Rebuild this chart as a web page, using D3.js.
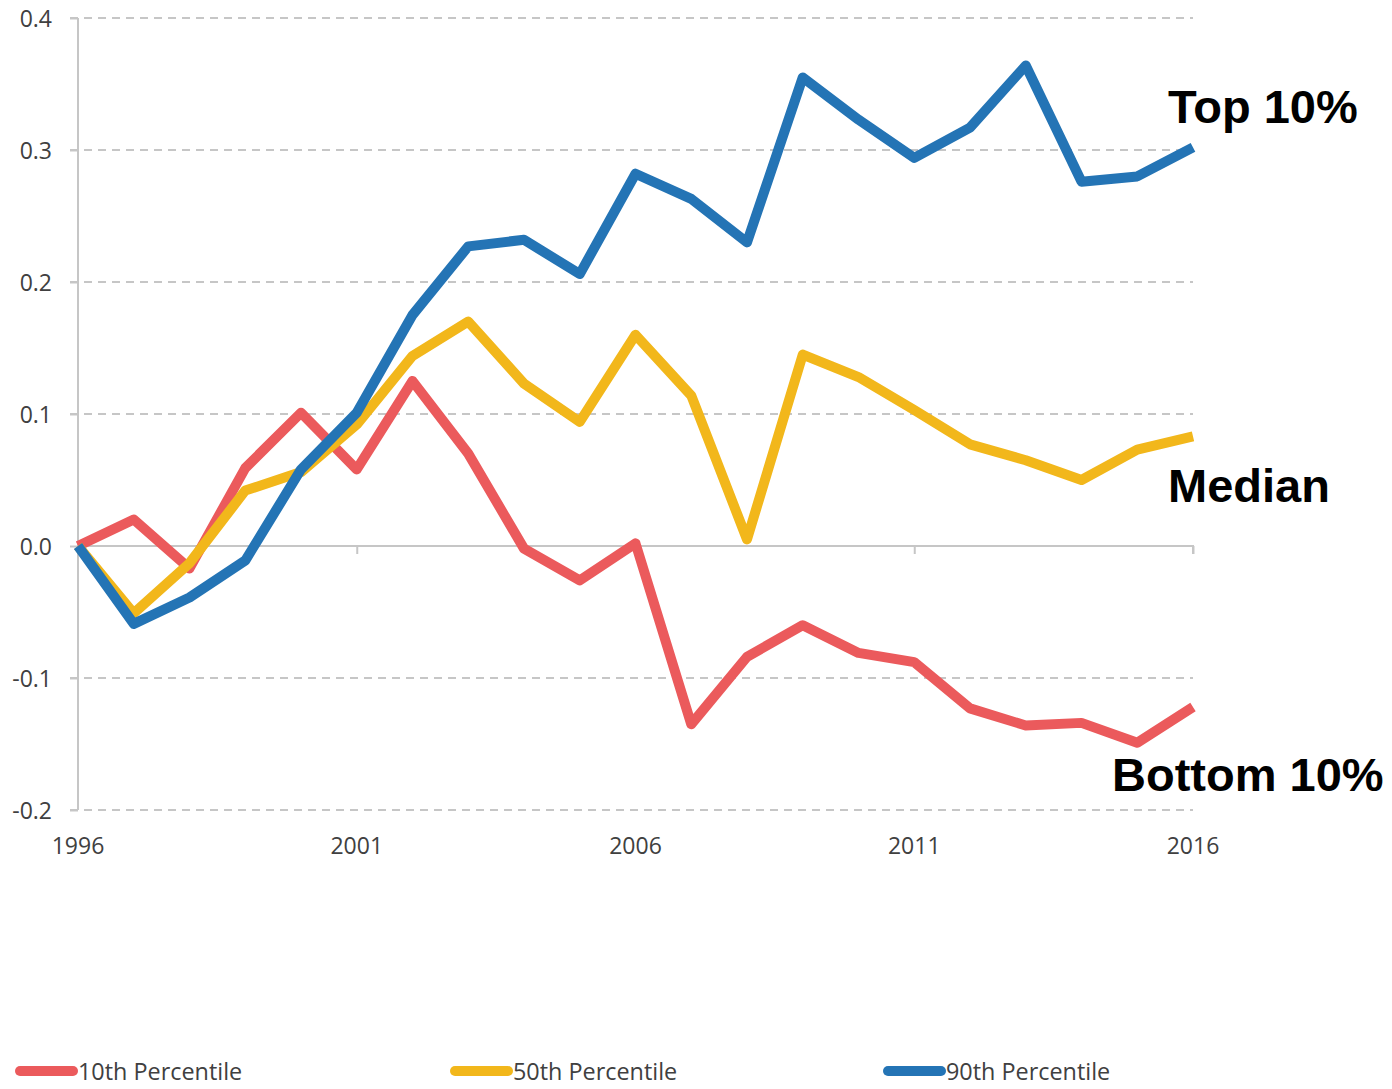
<!DOCTYPE html>
<html><head><meta charset="utf-8">
<script src="https://cdn.jsdelivr.net/npm/d3@7"></script>
<style>body{margin:0;background:#fff}svg{display:block}</style>
</head><body>
<script>
const years = d3.range(1996, 2017);
const p10 = [0, 0.020, -0.017, 0.059, 0.101, 0.058, 0.125, 0.070, -0.002, -0.026, 0.002, -0.135, -0.084, -0.060, -0.081, -0.088, -0.123, -0.136, -0.134, -0.149, -0.122];
const p50 = [0, -0.051, -0.013, 0.042, 0.056, 0.092, 0.144, 0.170, 0.123, 0.094, 0.160, 0.114, 0.005, 0.145, 0.128, 0.103, 0.077, 0.065, 0.050, 0.073, 0.083];
const p90 = [0, -0.059, -0.039, -0.011, 0.058, 0.101, 0.175, 0.227, 0.232, 0.206, 0.282, 0.263, 0.230, 0.355, 0.323, 0.294, 0.317, 0.364, 0.276, 0.280, 0.302];
const seriesNames = ["10th Percentile", "50th Percentile", "90th Percentile"];
const seriesColors = ["#EB5A5C", "#F2B71B", "#2474B5"];
const endLabels = ["Bottom 10%", "Median", "Top 10%"];
const yTicks = [-0.2, -0.1, 0.0, 0.1, 0.2, 0.3, 0.4];
const xTicks = [1996, 2001, 2006, 2011, 2016];

const W = 1392, H = 1089;
const svg = d3.select("body").append("svg").attr("width", W).attr("height", H);
const x = d3.scaleLinear().domain([1996, 2016]).range([78, 1193]);
const y = d3.scaleLinear().domain([-0.2, 0.4]).range([810, 18]);
const axisFont = "'Open Sans', sans-serif";
const textColor = "#404040";
const grid = "#c6c6c6";

// gridlines
svg.append("g").selectAll("line").data(yTicks.filter(v => v !== 0)).join("line")
  .attr("x1", 70).attr("x2", x(2016)).attr("y1", d => y(d)).attr("y2", d => y(d))
  .attr("stroke", grid).attr("stroke-width", 2).attr("stroke-dasharray", "8,6");

// y axis
const yAxis = svg.append("g").attr("transform", `translate(${x(1996)},0)`)
  .call(d3.axisLeft(y).tickValues(yTicks).tickFormat(d3.format(".1f")).tickSize(8).tickPadding(18));
yAxis.select(".domain").attr("stroke", grid).attr("stroke-width", 2).attr("d", `M0,${y(0.4)}V${y(-0.2)}`);
yAxis.selectAll(".tick line").attr("stroke", grid).attr("stroke-width", 2);
yAxis.selectAll(".tick text").attr("font-family", axisFont).attr("font-size", 23)
  .attr("fill", textColor).attr("dy", "0.38em").text(d => d3.format(".1f")(d).replace("−", "-"));

// zero line with downward ticks
const xAxis = svg.append("g").attr("transform", `translate(0,${y(0)})`)
  .call(d3.axisBottom(x).tickValues(xTicks).tickSize(8).tickFormat(""));
xAxis.select(".domain").attr("stroke", grid).attr("stroke-width", 2).attr("d", `M${x(1996)},0H${x(2016)}V8`);
xAxis.selectAll(".tick line").attr("stroke", grid).attr("stroke-width", 2);

// x labels at bottom
svg.append("g").selectAll("text").data(xTicks).join("text")
  .attr("x", d => x(d)).attr("y", 854).attr("text-anchor", "middle")
  .attr("font-family", axisFont).attr("font-size", 23).attr("fill", textColor)
  .text(d => d);

// lines
const data = [p10, p50, p90];
const line = d3.line().x((d, i) => x(years[i])).y(d => y(d));
svg.append("g").selectAll("path").data(data).join("path")
  .attr("d", line).attr("fill", "none")
  .attr("stroke", (d, i) => seriesColors[i]).attr("stroke-width", 10)
  .attr("stroke-linejoin", "round").attr("stroke-linecap", "butt");

// end labels
const labelPos = [[1112, 791], [1168, 502], [1168, 123]];
svg.append("g").selectAll("text").data(endLabels).join("text")
  .attr("x", (d, i) => labelPos[i][0]).attr("y", (d, i) => labelPos[i][1])
  .attr("font-family", "'Liberation Sans', Arial, sans-serif").attr("font-weight", "bold")
  .attr("font-size", 47).attr("fill", "#000").text(d => d);

// legend
const legX = [16, 451, 884];
const leg = svg.append("g").selectAll("g").data(seriesNames).join("g")
  .attr("transform", (d, i) => `translate(${legX[i]},1071)`);
leg.append("line").attr("x1", 4).attr("x2", 57).attr("y1", 0).attr("y2", 0)
  .attr("stroke", (d, i) => seriesColors[i]).attr("stroke-width", 10).attr("stroke-linecap", "round");
leg.append("text").attr("x", 62).attr("y", 9)
  .attr("font-family", axisFont).attr("font-size", 23.4).attr("fill", textColor).text(d => d);
</script>
</body></html>
